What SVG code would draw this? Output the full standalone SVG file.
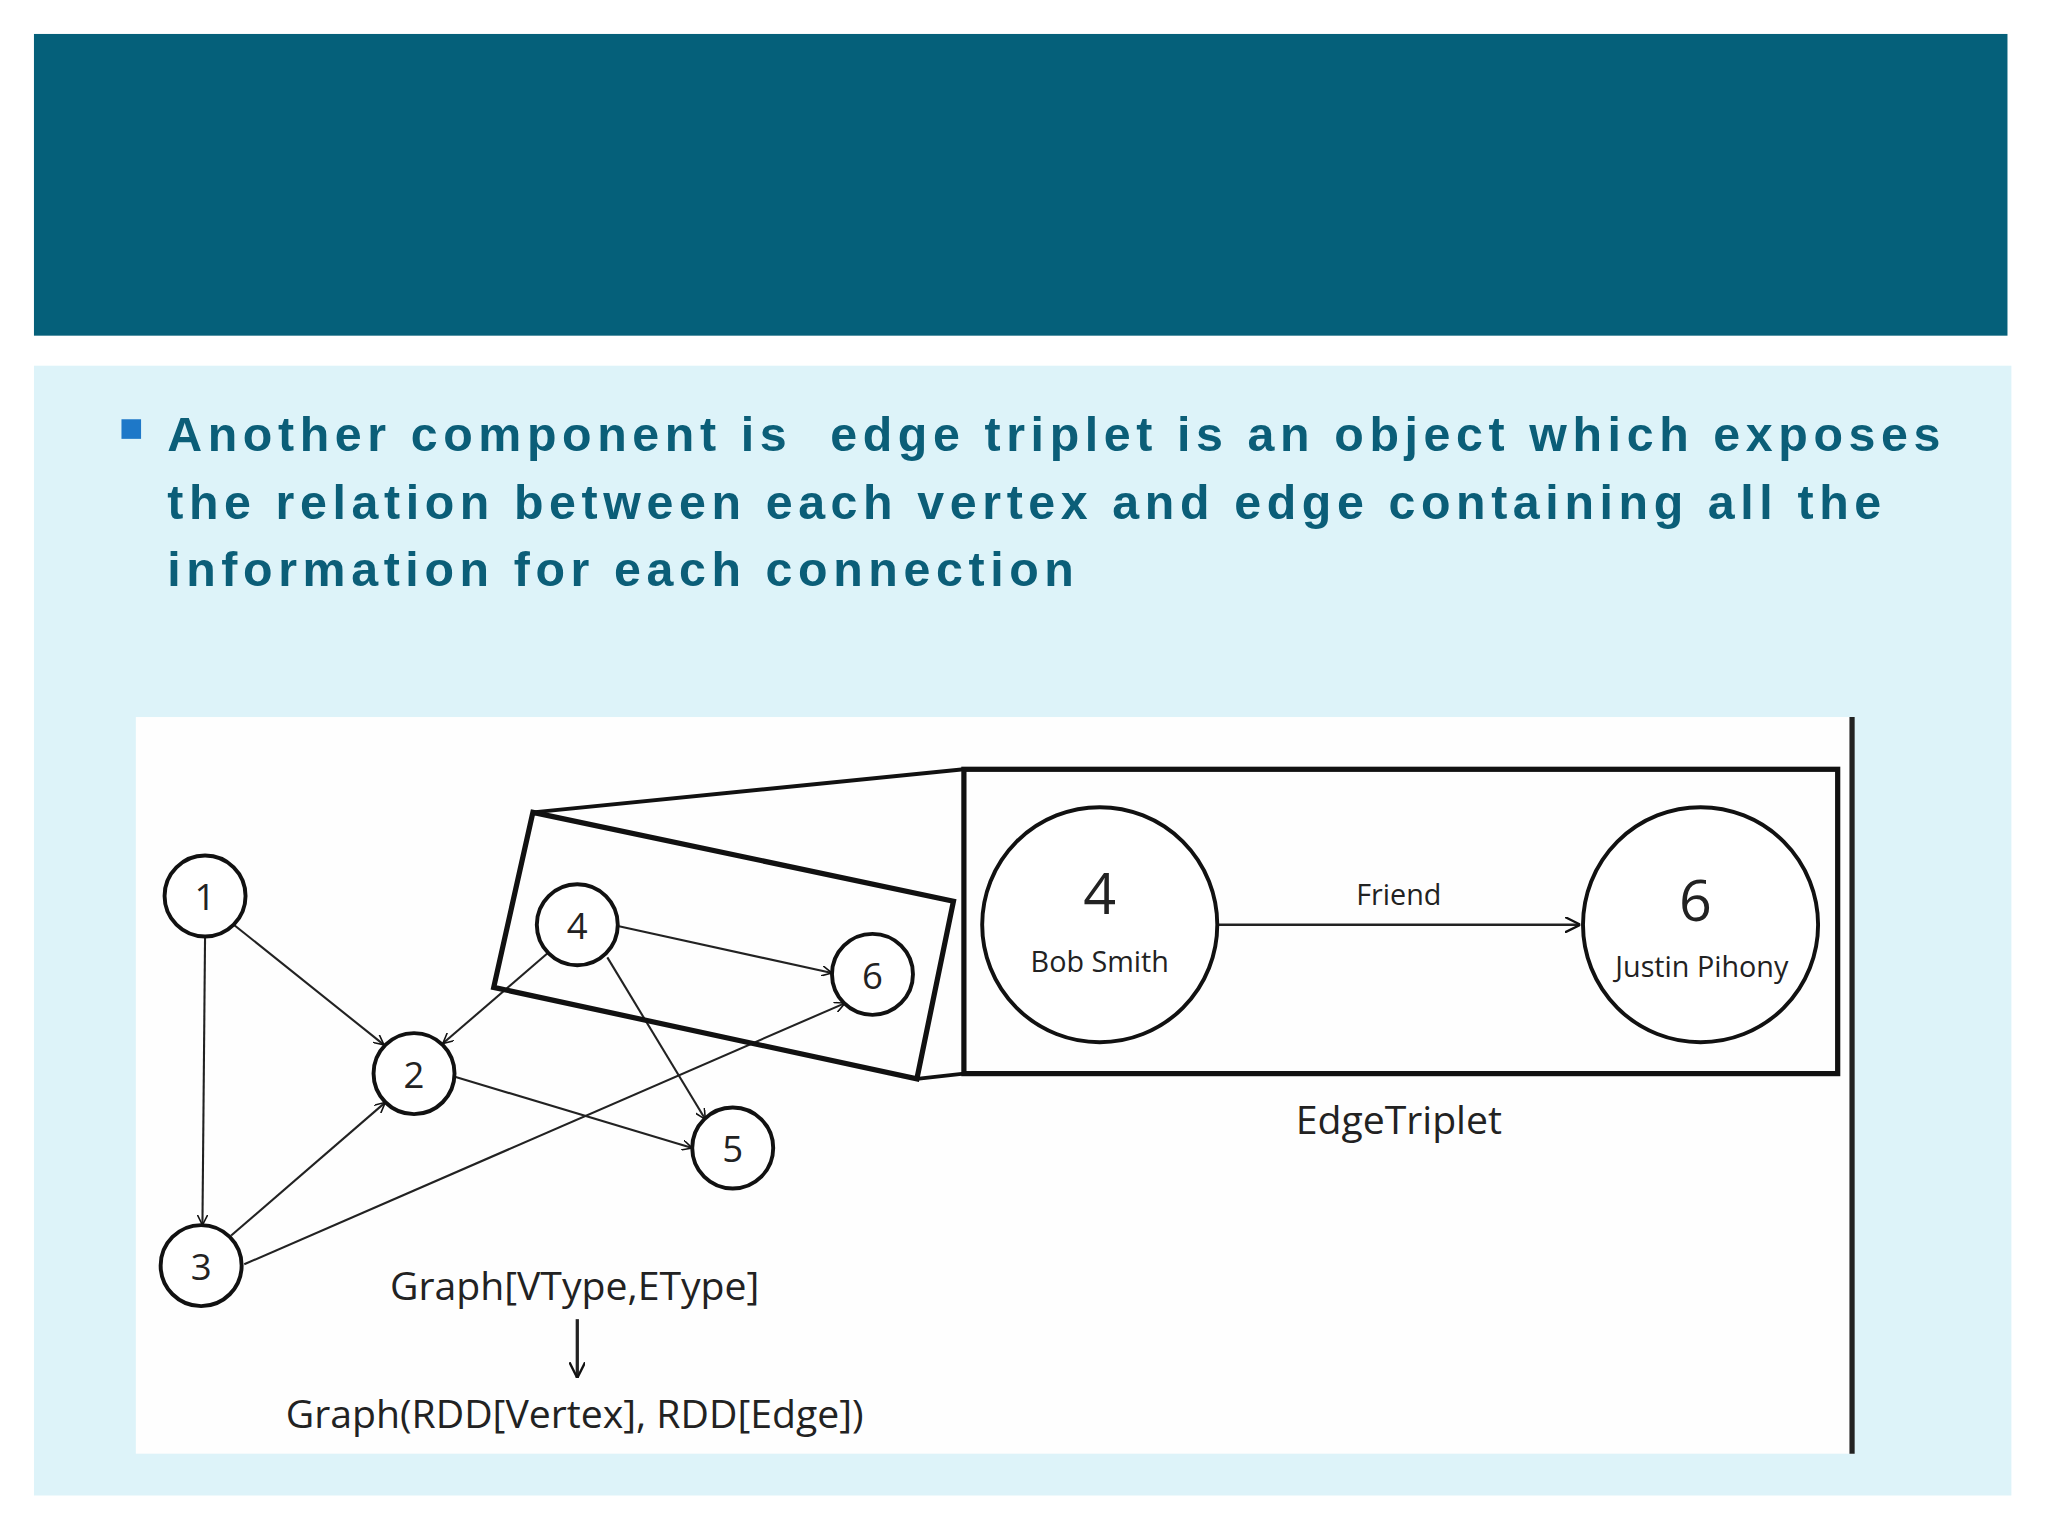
<svg xmlns="http://www.w3.org/2000/svg" width="2048" height="1536" viewBox="0 0 2048 1536">
<defs>
<marker id="ah" viewBox="0 0 10 10" refX="10" refY="5" markerWidth="8" markerHeight="8" orient="auto" markerUnits="userSpaceOnUse"><path d="M0,0 L10,5 L0,10" fill="none" stroke="#111" stroke-width="1.5"/></marker>
<marker id="ah2" viewBox="0 0 10 10" refX="10" refY="5" markerWidth="12" markerHeight="12" orient="auto" markerUnits="userSpaceOnUse"><path d="M0,0 L10,5 L0,10" fill="none" stroke="#111" stroke-width="1.5"/></marker>
<style>
.n{fill:#fff;stroke:#111;stroke-width:3}
.e{stroke:#222;stroke-width:1.6;fill:none;marker-end:url(#ah)}
.t{font-family:"Open Sans","DejaVu Sans",sans-serif;fill:#222;text-anchor:middle}
.b{font-family:"Liberation Sans",Arial,sans-serif;font-weight:bold;font-size:37px;letter-spacing:4.3px;fill:#0B5E78}
</style>
</defs>
<rect width="2048" height="1536" fill="#fff"/>
<g transform="scale(1.3061)">
<rect x="26" y="26" width="1511" height="231" fill="#05607A"/>
<rect x="26" y="280" width="1514" height="865" fill="#DDF3F9"/>
<rect x="93" y="321" width="15" height="15" fill="#1E78C8"/>
<text class="b" x="128" y="345" xml:space="preserve">Another component is  edge triplet is an object which exposes</text>
<text class="b" x="128" y="397">the relation between each vertex and edge containing all the</text>
<text class="b" x="128" y="449">information for each connection</text>
<rect x="104" y="549" width="1315" height="564" fill="#fefefe"/>
<line x1="1418" y1="549" x2="1418" y2="1113" stroke="#222" stroke-width="4"/>
<g id="connectors">
<line class="e" x1="179" y1="708" x2="294" y2="800"/>
<line class="e" x1="157" y1="717" x2="155" y2="938"/>
<line class="e" x1="177" y1="946" x2="295" y2="844"/>
<line class="e" x1="187" y1="968" x2="647" y2="768"/>
<line class="e" x1="419" y1="730" x2="339" y2="799"/>
<line class="e" x1="473" y1="709" x2="637" y2="745"/>
<line class="e" x1="465" y1="733" x2="540" y2="857"/>
<line class="e" x1="347" y1="824" x2="530" y2="879"/>
<line x1="408" y1="622" x2="738" y2="589" stroke="#111" stroke-width="3"/>
<line x1="702" y1="826" x2="738" y2="822" stroke="#111" stroke-width="3"/>
<line class="e" style="marker-end:url(#ah2);stroke-width:2" x1="932" y1="708" x2="1210" y2="708"/>
<line class="e" style="marker-end:url(#ah2);stroke-width:2.5" x1="442" y1="1010" x2="442" y2="1055"/>
</g>
<polygon points="408,622 730,690 702,826 378,756" fill="none" stroke="#111" stroke-width="4"/>
<rect x="738" y="589" width="669" height="233" fill="none" stroke="#111" stroke-width="4"/>
<g id="n1"><circle class="n" cx="157" cy="686" r="31"/><text class="t" x="157" y="697" font-size="28">1</text></g>
<g id="n2"><circle class="n" cx="317" cy="822" r="31"/><text class="t" x="317" y="833" font-size="28">2</text></g>
<g id="n3"><circle class="n" cx="154" cy="969" r="31"/><text class="t" x="154" y="980" font-size="28">3</text></g>
<g id="n4"><circle class="n" cx="442" cy="708" r="31"/><text class="t" x="442" y="719" font-size="28">4</text></g>
<g id="n5"><circle class="n" cx="561" cy="879" r="31"/><text class="t" x="561" y="890" font-size="28">5</text></g>
<g id="n6"><circle class="n" cx="668" cy="746" r="31"/><text class="t" x="668" y="757" font-size="28">6</text></g>
<g id="big4"><circle class="n" cx="842" cy="708" r="90"/><text class="t" x="842" y="700" font-size="44">4</text><text class="t" x="842" y="744" font-size="22">Bob Smith</text></g>
<g id="big6"><circle class="n" cx="1302" cy="708" r="90"/><text class="t" x="1298" y="705" font-size="44">6</text><text class="t" x="1303" y="748" font-size="22">Justin Pihony</text></g>
<text class="t" x="1071" y="693" font-size="22">Friend</text>
<text class="t" x="1071" y="868" font-size="30">EdgeTriplet</text>
<text class="t" x="440" y="995" font-size="30">Graph[VType,EType]</text>
<text class="t" x="440" y="1093" font-size="30">Graph(RDD[Vertex], RDD[Edge])</text>
</g>
</svg>
